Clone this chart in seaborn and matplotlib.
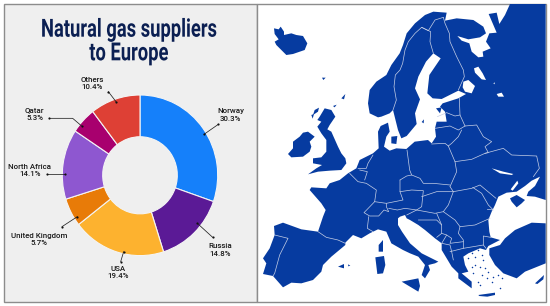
import matplotlib
matplotlib.use("Agg")
import matplotlib.pyplot as plt
import matplotlib.patheffects as pe
from matplotlib.transforms import Affine2D
import seaborn as sns
from matplotlib.patches import Rectangle

# ---------- data ----------
suppliers = ["Norway", "Russia", "USA", "United Kingdom", "North Africa", "Qatar", "Others"]
shares = [30.3, 14.8, 19.4, 5.7, 14.1, 5.3, 10.4]
slice_colors = ["#1580FA", "#5B1A96", "#FDB22F", "#E87B08", "#8E57D0", "#A8006E", "#DE4035"]
title_text = "Natural gas suppliers\nto Europe"

label_xy = [(692, 345), (661, 750), (355, 817), (117, 718), (90, 511), (104, 342), (276, 250)]
leader_paths = [
    [(612, 403), (655, 373)],
    [(592, 670), (638, 712)],
    [(371, 755), (362, 785)],
    [(232, 650), (186, 680)],
    [(195, 521), (142, 521)],
    [(245, 378), (218, 355), (148, 355)],
    [(348, 305), (325, 275)],
]

mainland = [
    (360,352),(335,340),(330,310),(335,270),(355,245),(385,225),(400,195),(425,160),(435,135),
    (446,100),(471,70),(501,45),(526,35),(566,38),(561,62),(596,55),(646,60),(676,80),(684,100),(666,112),
    (631,118),(598,108),(611,122),(634,130),(641,155),(661,172),(676,170),(674,155),(698,145),(684,125),
    (694,100),(716,98),(704,70),(692,42),(716,38),(724,72),(741,45),(756,12),(863,12),
    (863,600),(831,590),(806,588),(811,575),(831,558),(846,530),(821,542),(801,558),(776,575),(746,578),
    (721,590),(711,615),(701,635),(691,660),(694,695),(698,712),(726,720),(691,738),(684,750),(666,745),
    (631,760),(616,770),(621,795),(631,815),(611,820),(641,845),(641,865),(621,850),(601,835),(601,820),
    (581,800),(566,775),(551,750),(551,730),(531,715),(501,690),(481,675),(456,660),(446,655),(441,645),
    (426,650),(420,655),(420,675),(432,695),(456,730),(491,760),(541,785),(531,790),(511,795),(516,810),
    (501,835),(491,825),(501,795),(481,770),(456,760),(435,750),(400,730),(385,695),(360,688),(335,700),
    (310,715),(285,705),(262,728),(262,735),(220,770),(195,795),(190,815),(165,840),(130,850),(100,848),
    (75,862),(60,845),(45,828),(15,822),(25,790),(15,775),(35,745),(50,705),(48,678),(75,668),(130,688),
    (180,695),(195,650),(203,630),(190,610),(155,570),(160,562),(205,565),(215,550),(245,540),(270,520),
    (295,505),(305,480),(335,465),(345,460),(362,445),(360,395),(368,378),(390,368),(395,395),(385,410),
    (378,440),(395,452),(415,445),(445,447),(470,425),(510,420),(521,430),(534,410),(531,385),(536,365),
    (566,365),(561,335),(546,320),(554,310),(601,295),(624,282),(601,272),(551,297),(524,295),(508,280),
    (514,225),(548,175),(526,160),(504,185),(481,230),(471,265),(486,298),(471,340),(476,372),(446,408),
    (430,415),(420,390),(405,330),(395,340),(370,350),
]
islands = [
    [(50,125),(62,118),(50,102),(48,85),(62,88),(68,80),(78,95),(78,105),(100,100),(115,105),(135,108),(148,130),(140,150),(105,162),(85,165),(70,150),(55,135)],
    [(192,233),(203,233),(196,240)],
    [(250,295),(262,282),(258,298)],
    [(225,318),(236,314),(230,322)],
    [(170,330),(183,323),(180,335),(165,345)],
    [(160,345),(168,342),(164,356)],
    [(185,350),(200,325),(220,330),(232,350),(215,375),(208,388),(220,395),(240,440),(250,460),(262,475),(265,490),(250,510),(215,512),(180,515),(150,523),(175,505),(192,495),(165,490),(165,475),(190,472),(205,455),(205,420),(190,400),(178,380),(190,365),(178,360)],
    [(105,425),(125,410),(135,398),(150,395),(170,410),(155,425),(160,440),(155,455),(135,470),(100,472),(90,462),(105,445)],
    [(240,800),(258,792),(258,805)],
    [(270,793),(277,797),(271,799)],
    [(362,735),(375,720),(375,755),(362,755)],
    [(352,772),(378,768),(382,795),(375,820),(358,822)],
    [(431,845),(481,835),(486,858),(481,875),(456,860)],
    [(661,885),(711,878),(711,885),(688,890),(664,888)],
    [(831,850),(858,825),(856,838),(838,852)],
    [(863,670),(821,668),(771,690),(741,715),(726,735),(694,745),(694,765),(711,795),(736,820),(776,835),(801,815),(863,790)],
    [(400,410),(418,408),(415,432),(400,430)],
    [(534,325),(551,322),(546,340)],
    [(491,366),(498,358),(497,370)],
    # Crimea
    [(756,595),(776,585),(801,600),(791,610),(776,622),(761,605)],
]
inland_water = [
    [(616,245),(631,240),(651,258),(641,280),(621,275),(614,262)],
    [(648,205),(661,200),(674,220),(684,240),(671,238),(651,218)],
    [(706,250),(710,247),(710,253)],
    [(716,282),(731,278),(738,290),(721,290)],
    [(758,568),(778,542),(781,550),(764,572)],
    [(701,505),(736,515),(766,522),(761,525),(726,520)],
]
borders = [
    [(405,330),(415,300),(408,260),(412,225),(426,210),(434,190),(441,150),(451,125),(471,100),(491,82)],
    [(491,82),(518,95),(516,125),(526,160)],
    [(491,82),(511,92),(531,60),(556,52)],
    [(556,52),(561,70),(574,100),(576,125),(596,170),(616,210),(619,230),(601,270)],
    [(604,295),(606,345),(621,378)],
    [(538,350),(566,338),(591,348),(606,345)],
    [(531,385),(576,378),(601,390),(621,378)],
    [(611,390),(601,410),(581,430),(571,438)],
    [(521,432),(561,430),(571,438)],
    [(621,378),(656,375),(676,410),(701,425),(681,440),(691,458),(681,460)],
    [(681,460),(641,478),(591,485)],
    [(571,438),(591,485),(596,515),(576,560)],
    [(447,450),(455,510),(461,525)],
    [(426,540),(446,528),(461,525),(486,535),(496,550),(526,550),(576,555)],
    [(681,460),(736,445),(761,465),(836,468),(844,505),(826,530)],
    [(576,560),(586,575),(641,565),(666,555),(696,580),(714,595)],
    [(586,575),(571,615),(556,635),(591,660),(606,680),(651,675),(696,655)],
    [(644,562),(671,580),(691,615),(706,630),(688,628)],
    [(275,520),(300,545),(325,550),(355,570),(350,605)],
    [(300,505),(325,505),(330,490),(345,465)],
    [(320,540),(328,515),(305,510)],
    [(350,605),(385,610),(435,600),(426,575),(426,540)],
    [(426,575),(461,570),(496,572),(491,620),(476,630),(441,625),(418,630),(392,625)],
    [(491,590),(536,575),(586,575)],
    [(350,605),(318,638),(335,648),(362,648),(378,630),(392,635),(385,620),(385,610)],
    [(332,650),(328,685),(345,695)],
    [(180,695),(205,712),(240,720),(262,730)],
    [(50,705),(90,715),(65,765),(50,820),(45,828)],
    [(446,645),(476,630),(531,640),(556,635)],
    [(481,660),(536,660),(551,675),(551,700),(536,712)],
    [(536,640),(551,675)],
    [(606,680),(601,700),(616,720),(616,745)],
    [(551,700),(566,705),(551,730)],
    [(566,705),(581,715),(576,730),(616,725)],
    [(551,730),(576,735),(581,755),(586,780)],
    [(576,755),(616,745),(676,735),(684,745)],
    [(698,712),(676,708),(676,735)],
]
aegean_islands = [(631,775),(641,760),(651,770),(661,750),(671,765),(676,780),(651,795),(666,800),(681,805),(691,815),(671,825),(686,835),(661,845),(706,830),(721,825),(731,835),(701,845),(726,865),(646,820),(666,855),(641,800)]

# ---------- style ----------
sns.set_theme(style="white")
plt.rcParams["font.family"] = ["Roboto", "DejaVu Sans"]
MAP_BLUE = "#063BA0"
FRAME = "#8C8C8C"
PANEL = "#EFEFEF"
INK = "#0B1F52"

W, H = 550, 306
fig = plt.figure(figsize=(W / 100, H / 100), dpi=100, facecolor="white")


class Squeeze(pe.AbstractPathEffect):
    """Draws a text horizontally condensed about a centre given in display pixels."""

    def __init__(self, xc, sx):
        super().__init__()
        self.xc, self.sx = xc, sx

    def draw_path(self, renderer, gc, tpath, affine, rgbFace=None):
        squeezed = affine + Affine2D().translate(-self.xc, 0).scale(self.sx, 1).translate(self.xc, 0)
        renderer.draw_path(gc, tpath, squeezed, rgbFace)


def px_axes(x0, y0, x1, y1, **kw):
    return fig.add_axes([x0 / W, 1 - y1 / H, (x1 - x0) / W, (y1 - y0) / H], **kw)


# background panels
bg = px_axes(0, 0, W, H, zorder=0)
bg.set_xlim(0, W); bg.set_ylim(H, 0); bg.axis("off")
bg.add_patch(Rectangle((3.5, 3.5), 253.5, 298, fc=PANEL, ec=FRAME, lw=1))
bg.add_patch(Rectangle((257, 3.5), 289, 298, fc="white", ec=FRAME, lw=1))

# donut
cx, cy, rx, ry = 140, 175.3, 77.7, 80.3
pie_ax = px_axes(cx - rx, cy - ry, cx + rx, cy + ry, zorder=1)
pie_ax.pie(shares, colors=sns.color_palette(slice_colors), startangle=90, counterclock=False,
           radius=1, wedgeprops=dict(width=0.52, edgecolor="#F4F4F4", linewidth=0.8))
pie_ax.set_xlim(-1, 1); pie_ax.set_ylim(-1, 1)
pie_ax.set_aspect("auto")

# map (coordinates in traced-map units)
map_ax = px_axes(258, 0, 258 + 873 / 3, H, zorder=1)
map_ax.set_xlim(0, 873); map_ax.set_ylim(918, 0); map_ax.axis("off")
map_ax.fill(*zip(*mainland), color=MAP_BLUE, lw=0)
for shape in islands:
    map_ax.fill(*zip(*shape), color=MAP_BLUE, lw=0)
for shape in inland_water:
    map_ax.fill(*zip(*shape), color="white", lw=0)
for line in borders:
    map_ax.plot(*zip(*line), color="#C6CFE6", lw=0.5, solid_capstyle="round")
map_ax.scatter(*zip(*aegean_islands), s=1.2, color=MAP_BLUE, lw=0)

# overlay: title, labels, leaders
ov = px_axes(0, 0, W, H, zorder=2)
ov.set_xlim(0, W); ov.set_ylim(H, 0); ov.axis("off"); ov.patch.set_alpha(0)
ov.text(129, 41.5, title_text, ha="center", va="center", color=INK, fontsize=18, fontweight="bold",
        linespacing=0.98, family=["Roboto", "DejaVu Sans"],
        path_effects=[Squeeze(129, 0.735)])
for name, val, (lx, ly), path in zip(suppliers, shares, label_xy, leader_paths):
    ov.text(lx / 3, ly / 3, f"{name}\n{val}%", ha="center", va="center", fontsize=5.7,
            color="#1A1A1A", fontweight="medium", linespacing=1.3)
    xs = [p[0] / 3 for p in path]
    ys = [p[1] / 3 for p in path]
    ov.plot(xs, ys, color="#222222", lw=0.55)
    ov.scatter([xs[0], xs[-1]], [ys[0], ys[-1]], s=2.5, color="#111111", lw=0, zorder=3)

fig.savefig("out.png", dpi=100, facecolor="white")
